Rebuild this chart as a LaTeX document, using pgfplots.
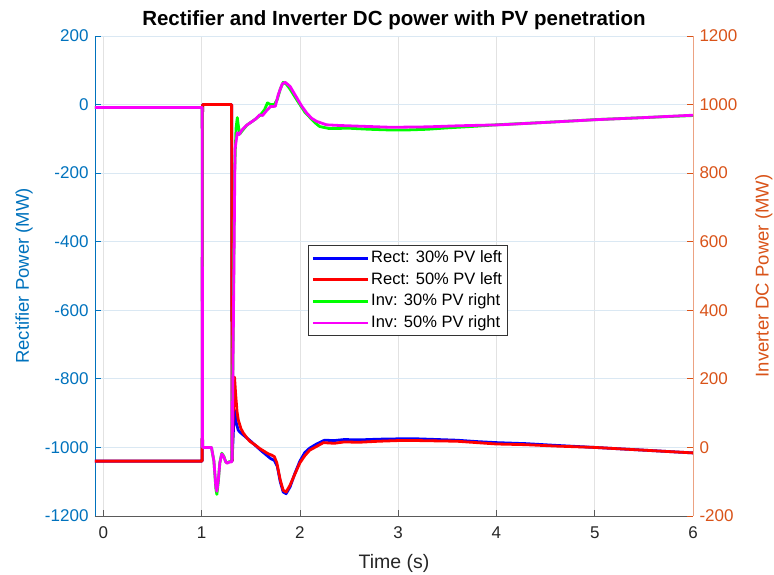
\documentclass[border=0pt]{standalone}
\usepackage{pgfplots}
\pgfplotsset{compat=1.18}
\usepackage{fontspec}
\setmainfont{Liberation Sans}
\definecolor{mblue}{RGB}{0,114,189}
\definecolor{morange}{RGB}{217,83,25}
\definecolor{morangeline}{RGB}{236,162,130}
\definecolor{gridx}{RGB}{226,226,226}
\definecolor{gridy}{RGB}{218,232,243}
\definecolor{xaxcol}{RGB}{90,90,90}
\definecolor{lineblue}{RGB}{0,0,255}
\definecolor{linered}{RGB}{255,0,0}
\definecolor{linegreen}{RGB}{0,255,0}
\definecolor{linemag}{RGB}{250,0,250}
\begin{document}
\begin{tikzpicture}
\path[use as bounding box] (-95pt,-59pt) rectangle (679pt,516pt);
\begin{axis}[
  scale only axis, width=598pt, height=480pt,
  xmin=-0.085, xmax=6, ymin=-1200, ymax=200,
  axis x line*=bottom, axis y line*=left,
  xtick={0,1,2,3,4,5,6},
  ytick={-1200,-1000,-800,-600,-400,-200,0,200},
  tick align=inside, major tick length=6pt,
  /pgf/number format/assume math mode=true,
  /pgf/number format/1000 sep={},
  ticklabel style={font=\fontsize{17}{20}\selectfont},
  xticklabel style={yshift=-7pt, text=black!85},
  yticklabel style={xshift=-3pt, text=mblue},
  x axis line style={draw=xaxcol, line width=0.8pt},
  y axis line style={draw=mblue, line width=0.8pt},
  xtick style={draw=xaxcol, line width=0.8pt},
  ytick style={draw=mblue, line width=0.8pt},
  xmajorgrids, ymajorgrids,
  x grid style={gridx, line width=0.8pt},
  y grid style={gridy, line width=0.8pt},
  xlabel={Time (s)},
  xlabel style={at={(axis description cs:0.5,0)}, anchor=base, yshift=-53pt, font=\fontsize{19.5}{22}\selectfont, text=black!85},
  ylabel={Rectifier Power (MW)},
  ylabel style={at={(axis description cs:-0.1104,0.5)}, anchor=base, rotate=0, font=\fontsize{18.5}{22}\selectfont, text=mblue},
  every axis title shift=0pt,
  title={\textbf{Rectifier and Inverter DC power with PV penetration}},
  title style={at={(axis description cs:0.5,1)}, anchor=base, yshift=10pt, font=\fontsize{20.5}{24}\selectfont},
]
\addplot[draw=lineblue, line width=2.8pt, line join=round] coordinates {
(-0.085,-1040) (1.005,-1040) (1.01,0) (1.305,0) (1.31,-1040) (1.325,-940) (1.338,-892) (1.35,-925) (1.373,-950) (1.40,-958) (1.45,-970) (1.50,-982) (1.55,-995) (1.60,-1008) (1.65,-1020) (1.70,-1032) (1.74,-1038) (1.77,-1055) (1.80,-1100) (1.83,-1130) (1.86,-1135) (1.90,-1115) (1.95,-1075) (2.00,-1040) (2.05,-1015) (2.10,-1002) (2.17,-990) (2.25,-979) (2.35,-980) (2.45,-977) (2.6,-978) (2.8,-976) (3.0,-975) (3.2,-975) (3.4,-977) (3.6,-979) (3.8,-983) (4.0,-986) (4.3,-989) (4.6,-994) (5.0,-1000) (5.5,-1008) (6.0,-1016)
};
\addplot[draw=linered, line width=2.8pt, line join=round] coordinates {
(-0.085,-1040) (1.005,-1040) (1.01,0) (1.305,0) (1.31,-1040) (1.322,-900) (1.335,-795) (1.345,-840) (1.36,-895) (1.373,-920) (1.40,-945) (1.424,-958) (1.46,-972) (1.49,-982) (1.55,-994) (1.59,-1003) (1.64,-1012) (1.68,-1019) (1.71,-1022) (1.74,-1027) (1.765,-1045) (1.80,-1095) (1.83,-1125) (1.86,-1130) (1.90,-1110) (1.95,-1077) (2.00,-1045) (2.05,-1024) (2.10,-1008) (2.17,-997) (2.24,-986) (2.35,-988) (2.45,-984) (2.6,-985) (2.8,-982) (3.0,-980) (3.2,-980) (3.4,-981) (3.6,-982) (3.8,-986) (4.0,-990) (4.3,-992) (4.6,-996) (5.0,-1000) (5.5,-1008) (6.0,-1016)
};
\end{axis}
\begin{axis}[
  scale only axis, width=598pt, height=480pt,
  xmin=-0.085, xmax=6, ymin=-200, ymax=1200,
  axis x line=none, axis y line*=right,
  ytick={-200,0,200,400,600,800,1000,1200},
  tick align=inside, major tick length=6pt,
  /pgf/number format/assume math mode=true,
  /pgf/number format/1000 sep={},
  ticklabel style={font=\fontsize{17}{20}\selectfont},
  yticklabel style={xshift=3pt, text=morange},
  y axis line style={draw=morangeline, line width=0.8pt},
  ytick style={draw=morange, line width=0.8pt},
  ylabel={Inverter DC Power (MW)},
  ylabel style={at={(axis description cs:1.1264,0.5)}, anchor=base, rotate=0, font=\fontsize{18.5}{22}\selectfont, text=morange},
  legend style={at={(axis description cs:0.3562,0.5646)}, anchor=north west,
    draw=black!80, line width=0.8pt, fill=white,
    font=\fontsize{16.5}{18}\selectfont,
    inner xsep=3pt, inner ysep=2pt,
    nodes={inner ysep=2.8pt, text height=12.5pt, text depth=3.5pt}},
  legend cell align=left,
  legend image code/.code={\draw[#1, line width=2.8pt] (0pt,0pt) -- (55pt,0pt);},
]
\addlegendimage{draw=lineblue}
\addlegendentry{Rect: 30\% PV left}
\addlegendimage{draw=linered}
\addlegendentry{Rect: 50\% PV left}
\addplot[draw=linegreen, line width=2.8pt, line join=round] coordinates {
(-0.085,991.5) (1.005,991.5) (1.01,0) (1.10,0) (1.125,-40) (1.145,-120) (1.155,-137) (1.17,-100) (1.185,-45) (1.205,-17) (1.225,-25) (1.245,-42) (1.26,-45) (1.28,-42) (1.305,-40) (1.31,-30) (1.335,800) (1.35,930) (1.363,962) (1.375,935) (1.39,915) (1.42,926) (1.46,940) (1.5,948) (1.55,958) (1.6,970) (1.64,985) (1.67,1005) (1.70,1000) (1.74,1000) (1.77,1015) (1.80,1045) (1.83,1065) (1.86,1060) (1.90,1045) (1.95,1022) (2.0,1000) (2.05,978) (2.10,963) (2.15,948) (2.20,936) (2.3,930) (2.5,931) (2.7,928) (2.9,926) (3.1,926) (3.3,928) (3.5,932) (3.8,937) (4.0,941) (4.5,948) (5.0,956) (5.5,962) (6.0,968)
};
\addlegendentry{Inv: 30\% PV right}
\addplot[draw=linemag, line width=2.8pt, line join=round] coordinates {
(-0.085,991.5) (1.005,991.5) (1.01,0) (1.10,0) (1.125,-40) (1.145,-115) (1.155,-128) (1.17,-95) (1.185,-45) (1.205,-19) (1.225,-27) (1.245,-42) (1.26,-46) (1.28,-43) (1.305,-42) (1.31,-35) (1.34,870) (1.363,918) (1.38,912) (1.41,926) (1.46,940) (1.49,946) (1.55,958) (1.59,970) (1.62,968) (1.66,982) (1.70,994) (1.75,995) (1.78,1029) (1.82,1060) (1.85,1065) (1.90,1053) (1.97,1019) (2.02,995) (2.07,975) (2.12,960) (2.17,951) (2.27,941) (2.4,939) (2.5,938) (2.7,936) (2.9,934) (3.02,934) (3.3,935) (3.6,938) (4.04,941) (4.5,948) (5.02,956) (5.5,962) (6.0,969)
};
\addlegendentry{Inv: 50\% PV right}
\end{axis}
\end{tikzpicture}
\end{document}
